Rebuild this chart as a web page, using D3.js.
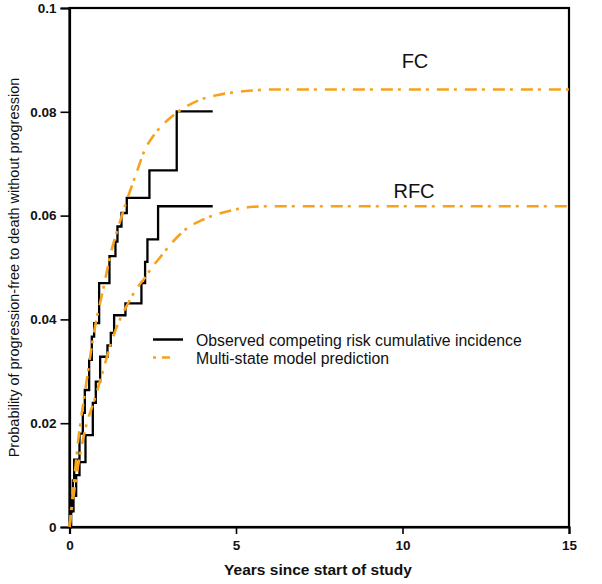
<!DOCTYPE html>
<html>
<head>
<meta charset="utf-8">
<script src="https://cdn.jsdelivr.net/npm/d3@7"></script>
<style>
  html, body { margin: 0; padding: 0; background: #fff; }
  svg { display: block; font-family: "Liberation Sans", Arial, sans-serif; }
</style>
</head>
<body>
<svg id="chart" width="602" height="584"></svg>
<script>
// ---- Data ----
// Observed competing-risk cumulative incidence (step functions)
const fcObsTime = [0, 0.03, 0.07, 0.10, 0.14, 0.30, 0.40, 0.46, 0.59, 0.67, 0.74, 0.89, 1.20, 1.38, 1.44, 1.56, 1.72, 2.40, 3.22, 4.30];
const fcObsProb = [0, 0.003, 0.006, 0.009, 0.013, 0.018, 0.022, 0.0264, 0.0322, 0.0367, 0.0393, 0.047, 0.0522, 0.055, 0.0579, 0.0605, 0.0634, 0.0687, 0.0801, 0.0801];
const rfcObsTime = [0, 0.05, 0.12, 0.20, 0.30, 0.48, 0.70, 0.79, 0.92, 1.14, 1.24, 1.34, 1.68, 2.16, 2.27, 2.34, 2.66, 4.30];
const rfcObsProb = [0, 0.003, 0.006, 0.010, 0.0125, 0.0177, 0.0239, 0.028, 0.0328, 0.035, 0.0374, 0.0408, 0.0431, 0.047, 0.0511, 0.0554, 0.0618, 0.0618];
// Multi-state model predictions (smooth)
const fcModTime = [0, 0.1, 0.25, 0.5, 0.75, 1.0, 1.25, 1.5, 1.75, 2.0, 2.25, 2.5, 3.0, 3.5, 4.0, 4.5, 5.0, 5.5, 6.0, 15];
const fcModProb = [0, 0.0065, 0.016, 0.0275, 0.038, 0.0455, 0.053, 0.0585, 0.0635, 0.068, 0.0725, 0.0752, 0.0787, 0.0810, 0.0825, 0.0833, 0.0838, 0.0841, 0.0843, 0.0843];
const rfcModTime = [0, 0.1, 0.25, 0.5, 0.75, 1.0, 1.25, 1.5, 1.75, 2.0, 2.25, 2.5, 2.75, 3.0, 3.5, 4.0, 4.5, 5.0, 5.5, 6.0, 15];
const rfcModProb = [0, 0.005, 0.0115, 0.0195, 0.0245, 0.030, 0.0355, 0.0398, 0.0430, 0.0458, 0.0479, 0.0502, 0.0522, 0.0542, 0.0574, 0.0592, 0.0604, 0.0612, 0.0617, 0.0618, 0.0618];

const xTicks = [0, 5, 10, 15];
const yTicks = [0, 0.02, 0.04, 0.06, 0.08, 0.1];
const yTickLabels = ["0", "0.02", "0.04", "0.06", "0.08", "0.1"];
const groupLabels = ["FC", "RFC"];
const legendLabels = ["Observed competing risk cumulative incidence", "Multi-state model prediction"];
const xTitle = "Years since start of study";
const yTitle = "Probability of progression-free to death without progression";

// ---- Layout ----
const svg = d3.select("#chart");
const mLeft = 69.5, mRight = 569, mTop = 8, mBottom = 527;
const x = d3.scaleLinear().domain([0, 15]).range([mLeft, mRight]);
const y = d3.scaleLinear().domain([0, 0.1]).range([mBottom, mTop]);
const orange = "#f6a21d";
const dash = "12,5,3,8";

// frame
svg.append("rect").attr("x", mLeft).attr("y", mTop).attr("width", mRight - mLeft).attr("height", mBottom - mTop)
  .attr("fill", "none").attr("stroke", "#000").attr("stroke-width", 2.2);

// axes
const xAxis = svg.append("g").attr("transform", `translate(0,${mBottom})`)
  .call(d3.axisBottom(x).tickValues(xTicks).tickFormat(d3.format("d")).tickSize(7).tickPadding(6));
const yAxis = svg.append("g").attr("transform", `translate(${mLeft},0)`)
  .call(d3.axisLeft(y).tickValues(yTicks).tickFormat((d, i) => yTickLabels[i]).tickSize(9).tickPadding(4));
[xAxis, yAxis].forEach(g => {
  g.select(".domain").attr("stroke-width", 2.2);
  g.selectAll(".tick line").attr("stroke-width", 1.6);
  g.selectAll(".tick text").attr("font-family", "'Liberation Sans', Arial, sans-serif")
    .attr("font-size", 13.5).attr("font-weight", "bold").attr("fill", "#111");
});

// series
const stepLine = d3.line().x(d => x(d[0])).y(d => y(d[1])).curve(d3.curveStepAfter);
const smoothLine = d3.line().x(d => x(d[0])).y(d => y(d[1])).curve(d3.curveMonotoneX);

const plot = svg.append("g");
[[fcObsTime, fcObsProb], [rfcObsTime, rfcObsProb]].forEach(([t, p]) => {
  plot.append("path").datum(d3.zip(t, p)).attr("d", stepLine)
    .attr("fill", "none").attr("stroke", "#000").attr("stroke-width", 2.3);
});
[[fcModTime, fcModProb], [rfcModTime, rfcModProb]].forEach(([t, p]) => {
  plot.append("path").datum(d3.zip(t, p)).attr("d", smoothLine)
    .attr("fill", "none").attr("stroke", orange).attr("stroke-width", 2.6).attr("stroke-dasharray", dash);
});

// group labels
svg.append("text").attr("x", 415).attr("y", 68).attr("text-anchor", "middle")
  .attr("font-size", 20).attr("fill", "#111").text(groupLabels[0]);
svg.append("text").attr("x", 414).attr("y", 198).attr("text-anchor", "middle")
  .attr("font-size", 20).attr("fill", "#111").text(groupLabels[1]);

// legend
const lg = svg.append("g");
lg.append("line").attr("x1", 153).attr("x2", 183).attr("y1", 339.5).attr("y2", 339.5)
  .attr("stroke", "#000").attr("stroke-width", 2.5);
lg.append("line").attr("x1", 153).attr("x2", 178).attr("y1", 357.5).attr("y2", 357.5)
  .attr("stroke", orange).attr("stroke-width", 2.5).attr("stroke-dasharray", "3,6,8,20");
lg.append("text").attr("x", 196).attr("y", 345.5).attr("font-size", 15.8).attr("fill", "#111").text(legendLabels[0]);
lg.append("text").attr("x", 196).attr("y", 363.5).attr("font-size", 15.8).attr("fill", "#111").text(legendLabels[1]);

// axis titles
svg.append("text").attr("x", 318).attr("y", 575).attr("text-anchor", "middle")
  .attr("font-size", 15.5).attr("font-weight", "bold").attr("fill", "#111").text(xTitle);
svg.append("text").attr("transform", `translate(19,${(mTop + mBottom) / 2}) rotate(-90)`)
  .attr("text-anchor", "middle").attr("font-size", 14.5).attr("fill", "#111").text(yTitle);
</script>
</body>
</html>
